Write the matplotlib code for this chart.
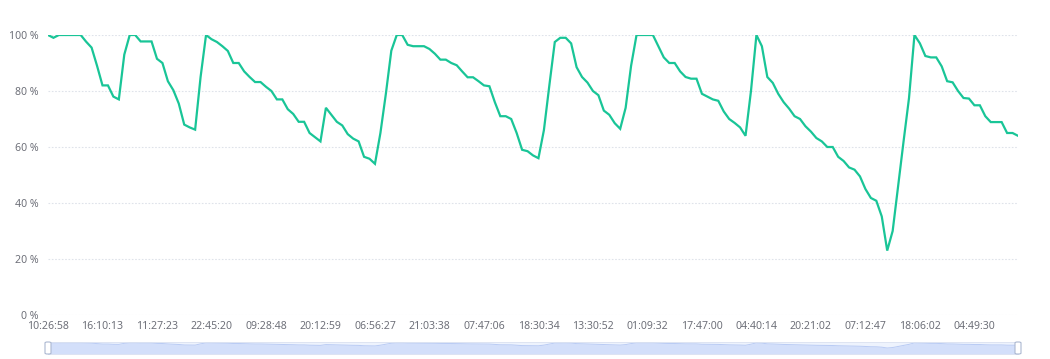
import matplotlib
matplotlib.use("Agg")
import matplotlib.pyplot as plt
from matplotlib.patches import FancyBboxPatch

# ---- data ----
battery_pct = [
    100, 99, 100, 100, 100, 100, 100, 97.6, 95.5, 89,
    82, 82, 78, 77, 93, 100, 100, 97.7, 97.7, 97.7,
    91.5, 90, 83.5, 80.3, 75.5, 68, 67, 66.2, 85, 100,
    98.5, 97.5, 96, 94.3, 90, 90, 87, 85, 83.2, 83.2,
    81.5, 80, 77, 77, 73.5, 71.8, 69, 69, 65, 63.5,
    62, 74, 71.5, 69, 67.7, 64.6, 63, 62, 56.5, 55.8,
    54, 65, 79, 94.4, 100, 100, 96.5, 96, 96, 96,
    95, 93.3, 91.2, 91.2, 90, 89.2, 87, 84.9, 84.9, 83.5,
    82, 81.7, 76, 71, 71, 70, 65, 59, 58.5, 57,
    56, 66, 82, 97.5, 99, 99, 97, 88.5, 85, 83,
    80, 78.5, 73, 71.5, 68.5, 66.5, 74, 89, 100, 100,
    100, 100, 96, 92, 90, 90, 87, 85, 84.4, 84.4,
    79, 78, 77, 76.5, 72.7, 70, 68.6, 67, 64, 80,
    100, 96, 85, 82.9, 79, 76, 73.7, 71, 70, 67.4,
    65.5, 63.2, 62, 60, 60, 56.5, 55, 52.7, 51.9, 49.5,
    45, 41.8, 40.8, 35.2, 23, 30, 46, 62, 77.5, 100,
    97, 92.5, 92, 92, 88.8, 83.5, 83.1, 80, 77.5, 77.3,
    74.9, 74.9, 71, 68.9, 68.9, 68.9, 65, 65, 64,
]
tick_labels = [
    "10:26:58", "16:10:13", "11:27:23", "22:45:20", "09:28:48", "20:12:59",
    "06:56:27", "21:03:38", "07:47:06", "18:30:34", "13:30:52", "01:09:32",
    "17:47:00", "04:40:14", "20:21:02", "07:12:47", "18:06:02", "04:49:30",
]
label_interval = 10
y_ticks = [0, 20, 40, 60, 80, 100]

# ---- styling ----
LINE_C = "#19c597"
TEXT_C = "#6e7079"
GRID_C = "#dfe3ea"
FONT = ["Noto Sans", "DejaVu Sans"]
FS = 7.6

W, H = 1050, 359
fig = plt.figure(figsize=(W / 100, H / 100), dpi=100)
fig.patch.set_facecolor("white")

x0, x1 = 48, 1018
ytop, ybot = 35, 315
ax = fig.add_axes([x0 / W, 1 - ybot / H, (x1 - x0) / W, (ybot - ytop) / H])
n = len(battery_pct)
xs = list(range(n))
ax.plot(xs, battery_pct, color=LINE_C, lw=1.6, solid_joinstyle="miter", zorder=3)
ax.set_xlim(0, n - 1)
ax.set_ylim(0, 100)
for s in ax.spines.values():
    s.set_visible(False)
ax.set_yticks(y_ticks)
ax.set_yticklabels([f"{v} %" for v in y_ticks], family=FONT, fontsize=FS, color=TEXT_C)
ax.yaxis.grid(True, color=GRID_C, lw=0.8, linestyle=(0, (1.5, 1.5)))
ax.xaxis.grid(False)
ax.tick_params(axis="y", length=0, pad=7)
tick_pos = [i * label_interval for i in range(len(tick_labels))]
ax.set_xticks(tick_pos)
ax.set_xticklabels(tick_labels, family=FONT, fontsize=FS, color=TEXT_C)
ax.tick_params(axis="x", length=0, pad=4)
ax.set_axisbelow(True)

# ---- data zoom slider ----
sy0, sy1 = 342, 354
sax = fig.add_axes([x0 / W, 1 - sy1 / H, (x1 - x0) / W, (sy1 - sy0) / H])
sax.set_xlim(0, n - 1)
sax.set_ylim(0, 1)
sax.axis("off")
sax.fill_between(xs, 0, 1, color="#eef3fd", lw=0)
vmin, vmax = min(battery_pct), max(battery_pct)
shadow = [0.5 + 0.43 * (v - vmin) / (vmax - vmin) for v in battery_pct]
sax.fill_between(xs, 0, shadow, color="#d3dffa", lw=0)
sax.plot(xs, shadow, color="#b9cbf4", lw=0.7)
sax.plot([0, n - 1, n - 1, 0, 0], [0, 0, 1, 1, 0], color="#dbe2f1", lw=0.6, clip_on=False)
for hx in (0, n - 1):
    p = FancyBboxPatch((hx - 0.55, 0.0), 1.1, 1.0,
                       boxstyle="round,pad=0,rounding_size=0.4",
                       fc="white", ec="#acb8d1", lw=0.8, clip_on=False,
                       mutation_aspect=0.2, zorder=5)
    sax.add_patch(p)

fig.savefig("out.png", dpi=100, facecolor="white")
